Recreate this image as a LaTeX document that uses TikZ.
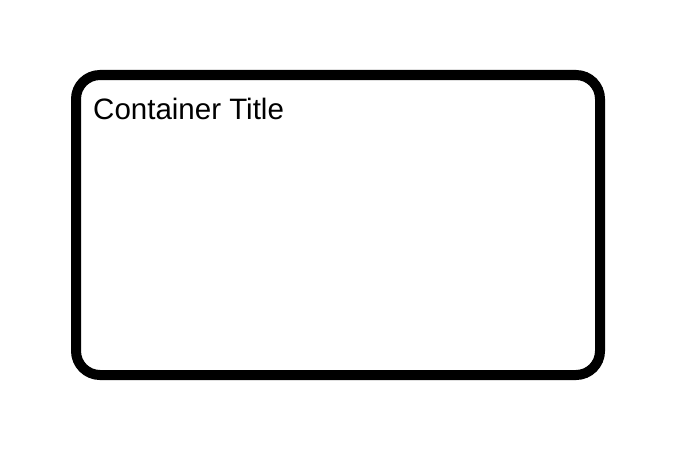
\documentclass[tikz,border=0pt]{standalone}
\usepackage{fontspec}
\setmainfont{Liberation Sans}
\begin{document}
\begin{tikzpicture}[x=1pt,y=-1pt,
  container/.style={draw=black,line width=10pt,rounded corners=24pt,fill=white},
  titletext/.style={anchor=base west,inner sep=0pt,font=\fontsize{29.5pt}{33pt}\selectfont}]
\useasboundingbox (0,0) rectangle (677,452);
\draw[container] (76,75) rectangle (600,375);
\node[titletext] (title) at (93,119) {Container Title};
\end{tikzpicture}
\end{document}
